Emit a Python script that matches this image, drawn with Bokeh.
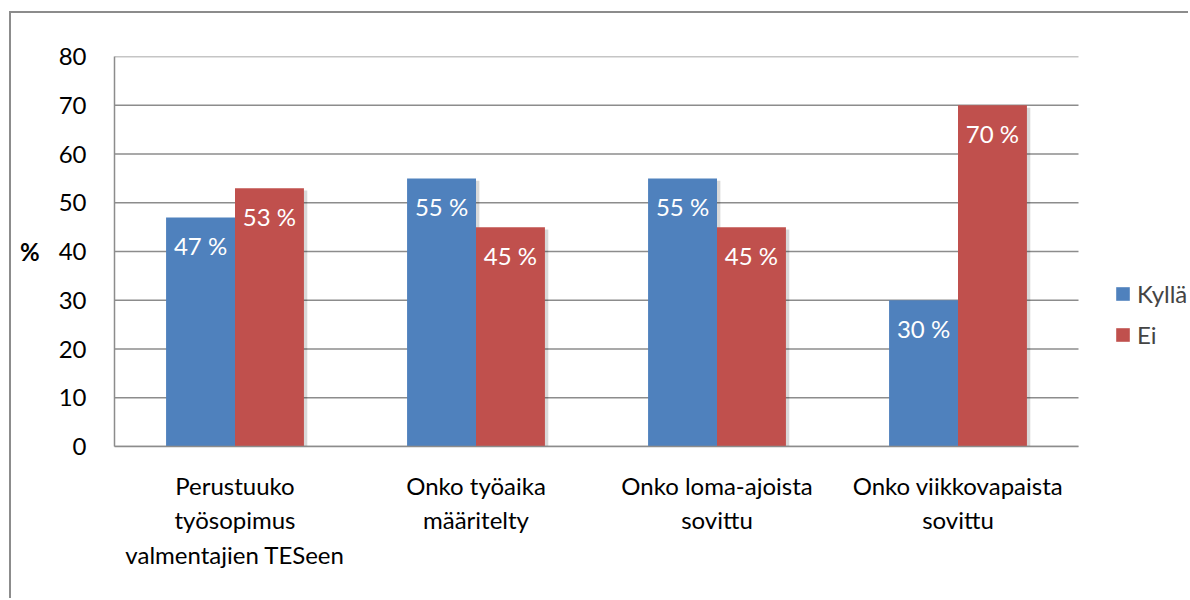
from bokeh.plotting import figure
from bokeh.models import ColumnDataSource, Range1d, Legend, LegendItem, FixedTicker
from bokeh.transform import dodge
from bokeh.embed import file_html
from bokeh.resources import INLINE
from bokeh.core.properties import value

categories = ["Perustuuko\ntyösopimus\nvalmentajien TESeen",
              "Onko työaika\nmääritelty",
              "Onko loma-ajoista\nsovittu",
              "Onko viikkovapaista\nsovittu"]
kylla = [47, 55, 55, 30]
ei = [53, 45, 45, 70]
series_names = ["Kyllä", "Ei"]
y_ticks = [0, 10, 20, 30, 40, 50, 60, 70, 80]

BLUE = "#4F81BD"
RED = "#C0504D"
GRID = "#8C8C8C"
FONT = "Lato"

W, H = 1179, 587
BL, BT, BB = 103, 43, 154
frame_w = W - BL
cat_px = 241.0
n = len(categories)
x_end = frame_w / cat_px

xs = [i + 0.5 for i in range(n)]
src = ColumnDataSource(dict(
    x=xs,
    kylla=kylla,
    ei=ei,
    kylla_lbl=[f"{v} %" for v in kylla],
    ei_lbl=[f"{v} %" for v in ei],
    kylla_sh=[v - 0.5 for v in kylla],
    ei_sh=[v - 0.5 for v in ei],
))

p = figure(x_range=Range1d(0, x_end), y_range=Range1d(0, 80),
           width=W, height=H, output_backend="svg", toolbar_location=None,
           min_border_left=BL, min_border_top=BT, min_border_right=0, min_border_bottom=BB)
p.margin = (11, 0, 0, 9)
p.styles = {"border-left": "2px solid #8C8C8C", "border-top": "2px solid #8C8C8C"}

# gridlines limited to the category area
p.segment(x0=[0] * len(y_ticks), x1=[n] * len(y_ticks), y0=y_ticks, y1=y_ticks,
          line_color=GRID, line_width=1.5)

bw = 0.286
p.vbar(x=dodge("x", -0.143 + 0.014), top="kylla_sh", bottom=0, width=bw,
       source=src, fill_color="black", fill_alpha=0.15, line_color=None)
p.vbar(x=dodge("x", 0.143 + 0.014), top="ei_sh", bottom=0, width=bw,
       source=src, fill_color="black", fill_alpha=0.15, line_color=None)

r1 = p.vbar(x=dodge("x", -0.143), top="kylla", width=bw, source=src,
            fill_color=BLUE, line_color=None)
r2 = p.vbar(x=dodge("x", 0.143), top="ei", width=bw, source=src,
            fill_color=RED, line_color=None)

p.text(x=dodge("x", -0.143), y="kylla", text="kylla_lbl", source=src,
       text_align="center", text_baseline="top", y_offset=14, text_color="white",
       text_font=value(FONT), text_font_size="24px")
p.text(x=dodge("x", 0.143), y="ei", text="ei_lbl", source=src,
       text_align="center", text_baseline="top", y_offset=14, text_color="white",
       text_font=value(FONT), text_font_size="24px")

p.outline_line_color = None
p.xgrid.grid_line_color = None
p.ygrid.grid_line_color = None
p.yaxis.ticker = FixedTicker(ticks=y_ticks)
p.xaxis.ticker = FixedTicker(ticks=xs)
p.xaxis.major_label_overrides = {x: c for x, c in zip(xs, categories)}
p.xaxis.bounds = (0, n)

for ax in (p.xaxis[0], p.yaxis[0]):
    ax.axis_line_color = GRID
    ax.axis_line_width = 1.5
    ax.major_tick_line_color = None
    ax.minor_tick_line_color = None
    ax.major_tick_out = 0
    ax.major_tick_in = 0
    ax.minor_tick_out = 0
    ax.minor_tick_in = 0
    ax.major_label_text_font = FONT
    ax.major_label_text_font_size = "24px"
    ax.major_label_text_color = "black"

p.yaxis.major_label_standoff = 28
p.yaxis.axis_label = "%"
p.yaxis.axis_label_orientation = "horizontal"
p.yaxis.axis_label_standoff = 16
p.yaxis.axis_label_text_font = FONT
p.yaxis.axis_label_text_font_size = "24px"
p.yaxis.axis_label_text_font_style = "bold"
p.yaxis.axis_label_text_color = "black"
p.xaxis.major_label_standoff = 24
p.xaxis.major_label_orientation = "horizontal"

legend = Legend(items=[LegendItem(label=series_names[0], renderers=[r1]),
                       LegendItem(label=series_names[1], renderers=[r2])],
                location=(1000, 97), orientation="vertical",
                glyph_width=17, glyph_height=17, label_height=17, label_width=20,
                label_standoff=6, spacing=12, padding=0, margin=0,
                border_line_color=None, background_fill_alpha=0,
                label_text_font=FONT, label_text_font_size="24px")
p.add_layout(legend, "center")

open("out.html", "w").write(file_html(p, INLINE))
